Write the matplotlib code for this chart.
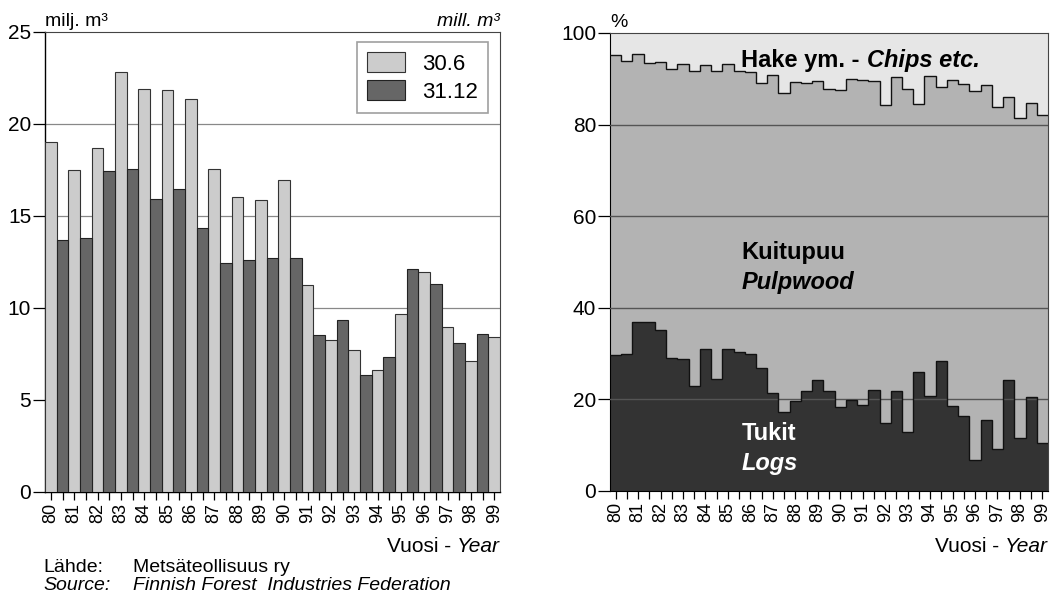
import matplotlib
matplotlib.use("Agg")
import matplotlib.pyplot as plt
import numpy as np

plt.rcParams['font.family'] = ['Liberation Sans Narrow', 'Liberation Sans', 'DejaVu Sans']

# ---- data ----
years = ['80', '81', '82', '83', '84', '85', '86', '87', '88', '89',
         '90', '91', '92', '93', '94', '95', '96', '97', '98', '99']

# stocks, milj. m3 (30.6 and 31.12 of each year)
stock_jun = [19.0, 17.5, 18.7, 22.8, 21.9, 21.85, 21.35, 17.55, 16.05, 15.85,
             16.95, 11.25, 8.28, 7.74, 6.63, 9.69, 11.96, 8.97, 7.10, 8.44]
stock_dec = [13.7, 13.8, 17.45, 17.55, 15.9, 16.45, 14.35, 12.45, 12.6, 12.7,
             12.7, 8.55, 9.33, 6.38, 7.34, 12.1, 11.3, 8.08, 8.6]

# shares of stock, % (half-year steps, 30.6.80 ... 30.6.99)
logs = [29.7, 30.0, 37.0, 37.0, 35.2, 29.0, 28.8, 23.0, 31.1, 24.5,
        31.0, 30.3, 30.0, 26.8, 21.3, 17.2, 19.7, 21.8, 24.2, 21.8,
        18.3, 19.9, 18.7, 22.0, 14.8, 21.8, 12.9, 26.0, 20.7, 28.4,
        18.6, 16.4, 6.8, 15.6, 9.1, 24.3, 11.5, 20.6, 10.4]
logs_pulp = [95.1, 93.8, 95.4, 93.55, 93.6, 92.1, 93.2, 91.6, 93.1, 91.6,
             93.3, 91.6, 91.4, 89.1, 90.8, 86.9, 89.2, 89.0, 89.45, 87.8,
             87.6, 89.9, 89.7, 89.5, 84.2, 90.5, 87.8, 84.5, 90.7, 88.3,
             89.8, 88.9, 87.4, 88.6, 83.8, 86.1, 81.5, 84.8, 82.0]

c_light = '#cccccc'
c_dark = '#666666'

fig = plt.figure(figsize=(10.57, 6.11), dpi=100)

# ---- left: stocks ----
ax = fig.add_axes([0.0426, 0.1948, 0.4305, 0.7529])
x_jun = np.arange(len(stock_jun)) * 2
x_dec = np.arange(len(stock_dec)) * 2 + 1
ax.bar(x_jun, stock_jun, width=1.0, color=c_light, edgecolor='#333333',
       linewidth=0.8, zorder=3, label='30.6')
ax.bar(x_dec, stock_dec, width=1.0, color=c_dark, edgecolor='#222222',
       linewidth=0.8, zorder=3, label='31.12')
ax.set_xlim(-0.5, 38.5)
ax.set_ylim(0, 25)
ax.set_yticks([0, 5, 10, 15, 20, 25])
for v in [5, 10, 15, 20]:
    ax.axhline(v, color='#888888', linewidth=0.9, zorder=1)
ax.set_xticks(np.arange(39))
ax.set_xticklabels([years[i // 2] if i % 2 == 0 else '' for i in range(39)],
                   rotation=90, fontsize=13)
ax.tick_params(axis='x', length=6, width=0.9, pad=2)
ax.tick_params(axis='y', length=9, width=0.9, labelsize=15, pad=1)
for s in ['top', 'right']:
    ax.spines[s].set_color('#444444')
ax.spines['left'].set_linewidth(1.0)
ax.spines['bottom'].set_linewidth(1.0)
leg = ax.legend(loc='upper right', bbox_to_anchor=(0.974, 0.978), borderaxespad=0,
                fontsize=16, frameon=True, fancybox=False, edgecolor='#888888',
                handlelength=1.7, handleheight=1.0, borderpad=0.45,
                labelspacing=0.25, handletextpad=0.8)
leg.get_frame().set_linewidth(1.2)
ax.text(0.0, 1.005, 'milj. m³', transform=ax.transAxes, ha='left', va='bottom', fontsize=14)
ax.text(1.0, 1.005, 'mill. m³', transform=ax.transAxes, ha='right', va='bottom',
        fontsize=14, style='italic')

# ---- right: shares ----
ax2 = fig.add_axes([0.5771, 0.1964, 0.4144, 0.7496])
edges = np.arange(len(logs) + 1) - 0.5
ax2.set_facecolor('#e6e6e6')
ax2.stairs(logs_pulp, edges, baseline=0, fill=True, color='#b3b3b3', zorder=1)
ax2.stairs(logs, edges, baseline=0, fill=True, color='#333333', zorder=2)
ax2.stairs(logs_pulp, edges, baseline=None, color='#111111', linewidth=1.0, zorder=4)
ax2.stairs(logs, edges, baseline=None, color='#111111', linewidth=1.0, zorder=4)
for v in [20, 40, 60, 80]:
    ax2.axhline(v, color='#555555', linewidth=1.0, zorder=3)
ax2.set_xlim(-0.5, 38.5)
ax2.set_ylim(0, 100)
ax2.set_yticks([0, 20, 40, 60, 80, 100])
ax2.set_xticks(np.arange(39))
ax2.set_xticklabels([years[i // 2] if i % 2 == 0 else '' for i in range(39)],
                    rotation=90, fontsize=13)
ax2.tick_params(axis='x', length=6, width=0.9, pad=2)
ax2.tick_params(axis='y', length=9, width=0.9, labelsize=15, pad=1)
for s in ['top', 'right']:
    ax2.spines[s].set_color('#444444')
ax2.text(0.0, 1.005, '%', transform=ax2.transAxes, ha='left', va='bottom', fontsize=14)

hake = ax2.text(0.30, 0.94, 'Hake ym. - ', transform=ax2.transAxes, ha='left', va='center',
                fontsize=17, fontweight='bold', zorder=5)
fig.canvas.draw()
bb = hake.get_window_extent().transformed(ax2.transAxes.inverted())
ax2.text(bb.x1, 0.94, 'Chips etc.', transform=ax2.transAxes, ha='left', va='center',
         fontsize=17, fontweight='bold', style='italic', zorder=5)
ax2.text(0.30, 0.52, 'Kuitupuu', transform=ax2.transAxes, ha='left', va='center',
         fontsize=17, fontweight='bold', zorder=5)
ax2.text(0.30, 0.455, 'Pulpwood', transform=ax2.transAxes, ha='left', va='center',
         fontsize=17, fontweight='bold', style='italic', zorder=5)
ax2.text(0.30, 0.125, 'Tukit', transform=ax2.transAxes, ha='left', va='center',
         fontsize=17, fontweight='bold', color='white', zorder=5)
ax2.text(0.30, 0.06, 'Logs', transform=ax2.transAxes, ha='left', va='center',
         fontsize=17, fontweight='bold', style='italic', color='white', zorder=5)

# ---- footer texts ----
def year_label(x_right, y):
    t = fig.text(x_right, y, 'Year', ha='right', va='center', fontsize=15, style='italic')
    fig.canvas.draw()
    b = t.get_window_extent().transformed(fig.transFigure.inverted())
    fig.text(b.x0, y, 'Vuosi - ', ha='right', va='center', fontsize=15)

year_label(500 / 1057, 1 - 547 / 611)
year_label(1048 / 1057, 1 - 547 / 611)

fig.text(43 / 1057, 1 - 567 / 611, 'Lähde:', ha='left', va='center', fontsize=14)
fig.text(133 / 1057, 1 - 567 / 611, 'Metsäteollisuus ry', ha='left', va='center', fontsize=14)
fig.text(43 / 1057, 1 - 585 / 611, 'Source:', ha='left', va='center', fontsize=14, style='italic')
fig.text(133 / 1057, 1 - 585 / 611, 'Finnish Forest  Industries Federation', ha='left',
         va='center', fontsize=14, style='italic')

fig.savefig('out.png', dpi=100)
